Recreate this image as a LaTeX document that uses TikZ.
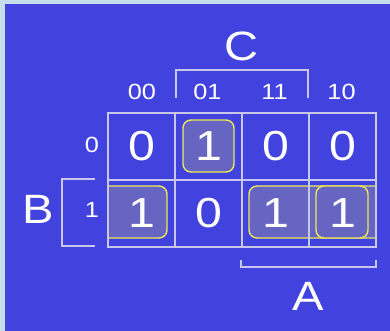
\documentclass[tikz,border=0pt]{standalone}
\usepackage{fontspec}
\setmainfont{Liberation Sans}[FakeStretch=1.15]
\usepackage{tikz}
\usetikzlibrary{positioning}
\definecolor{kmapbg}{HTML}{4242DF}
\definecolor{kmapedge}{HTML}{C6DFEC}
\definecolor{gridline}{HTML}{C8C8EE}
\definecolor{loopyellow}{HTML}{EAEA5A}
\definecolor{loopfill}{HTML}{6666C2}
\tikzset{
    every node/.style={font=\fontsize{22}{22}\selectfont,text=white,inner sep=0pt},
    kcell/.style={draw=gridline,line width=1.5pt,minimum size=67pt,font=\fontsize{42}{42}\selectfont},
    varname/.style={font=\fontsize{41}{41}\selectfont},
    bracket/.style={draw=gridline,line width=1.5pt},
    group/.style={draw=loopyellow,fill=loopfill,line width=1.4pt,rounded corners=8pt}
}
\begin{document}
\begin{tikzpicture}[x=1pt,y=-1pt]
\useasboundingbox (0,0) rectangle (390,331);
\fill[kmapedge] (0,0) rectangle (390,331);
\fill[kmapbg] (4.5,4) rectangle (390,331);
% groups of ones
\node[group,minimum width=51pt,minimum height=52pt] (g01) at (208.5,146) {};
\begin{scope}
\clip (108,100) rectangle (376,260);
\draw[group] (90,186) rectangle (167,238);
\draw[group] (249,186) rectangle (400,238);
\end{scope}
\node[group,minimum width=52pt,minimum height=52pt] (g10) at (342,212) {};
% the map
\node[kcell] (b0ac00) at (141.5,146.5) {0};
\node[kcell] (b0ac01) at (208.5,146.5) {1};
\node[kcell] (b0ac11) at (275.5,146.5) {0};
\node[kcell] (b0ac10) at (342.5,146.5) {0};
\node[kcell] (b1ac00) at (141.5,213.5) {1};
\node[kcell] (b1ac01) at (208.5,213.5) {0};
\node[kcell] (b1ac11) at (275.5,213.5) {1};
\node[kcell] (b1ac10) at (342.5,213.5) {1};
% headings
\node (ac00) at (142,92) {00};
\node (ac01) at (207.5,92) {01};
\node (ac11) at (274.5,92) {11};
\node (ac10) at (341.5,92) {10};
\node (b0) at (92,145) {0};
\node (b1) at (92,210) {1};
% variables
\node[varname] (varC) at (242,46) {C};
\node[varname] (varB) at (38,209) {B};
\node[varname] (varA) at (308,296) {A};
\draw[bracket] (176,98) -- (176,70) -- (308,70) -- (308,98);
\draw[bracket] (95,179) -- (62,179) -- (62,246) -- (95,246);
\draw[bracket] (241,260) -- (241,267) -- (376,267) -- (376,260);
\end{tikzpicture}
\end{document}
